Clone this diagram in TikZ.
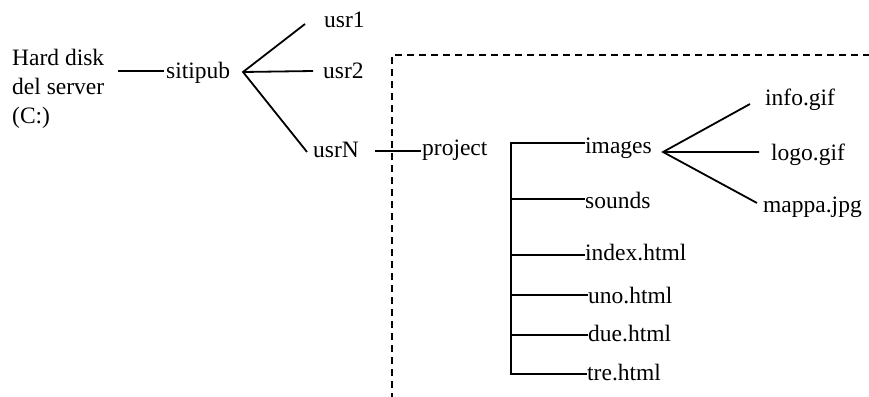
\documentclass[tikz,border=0pt]{standalone}
\usepackage{fontspec}
\setmainfont{Liberation Serif}
\begin{document}
\begin{tikzpicture}[x=1pt,y=-1pt,
  lbl/.style={anchor=base west,inner sep=0pt,font=\fontsize{23.5}{29}\selectfont},
  branch/.style={line width=1.8pt},
  frame/.style={line width=1.5pt,dash pattern=on 7pt off 5pt}]
\useasboundingbox (0,0) rectangle (869,396);

% labels
\node[lbl,align=left,anchor=north west] (hd) at (12,49) {Hard disk\\del server\\(C:)};
\node[lbl] (sitipub) at (166,78) {sitipub};
\node[lbl] (usr1) at (324,28) {usr1};
\node[lbl] (usr2) at (323,78) {usr2};
\node[lbl] (usrN) at (313,157) {usrN};
\node[lbl] (project) at (422,155) {project};
\node[lbl] (images) at (585,153) {images};
\node[lbl] (sounds) at (585,208) {sounds};
\node[lbl] (index) at (585,260) {index.html};
\node[lbl] (uno) at (588,303) {uno.html};
\node[lbl] (due) at (588,341) {due.html};
\node[lbl] (tre) at (587,380) {tre.html};
\node[lbl] (info) at (765,105) {info.gif};
\node[lbl] (logo) at (771,160) {logo.gif};
\node[lbl] (mappa) at (763,212) {mappa.jpg};

% junction points
\coordinate (hdR) at (118,71);
\coordinate (sL) at (164,71);
\coordinate (fanA) at (243,72);
\coordinate (u1) at (305,24);
\coordinate (u2) at (313,71);
\coordinate (uN) at (307,152);
\coordinate (nR) at (375,151);
\coordinate (pL) at (421,151);
\coordinate (top) at (511,143);
\coordinate (bot) at (511,374);
\coordinate (fanB) at (663,152);
\coordinate (fi) at (750,104);
\coordinate (fl) at (759,152);
\coordinate (fm) at (757,203);

% connectors
\draw[branch] (hdR) -- (sL);
\draw[branch] (u1) -- (fanA) -- (uN) (fanA) -- (u2);
\draw[branch] (nR) -- (pL);
\draw[branch] (images.west |- top) -- (top) -- (bot) -- (tre.west |- bot);
\draw[branch] (top |- 0,199) -- (sounds.west |- 0,199);
\draw[branch] (top |- 0,255) -- (index.west |- 0,255);
\draw[branch] (top |- 0,295) -- (uno.west |- 0,295);
\draw[branch] (top |- 0,335) -- (due.west |- 0,335);
\draw[branch] (fi) -- (fanB) -- (fm) (fanB) -- (fl);

% dashed frame around the project folder
\draw[frame] (392,400) -- (392,55) -- (875,55);
\end{tikzpicture}
\end{document}
